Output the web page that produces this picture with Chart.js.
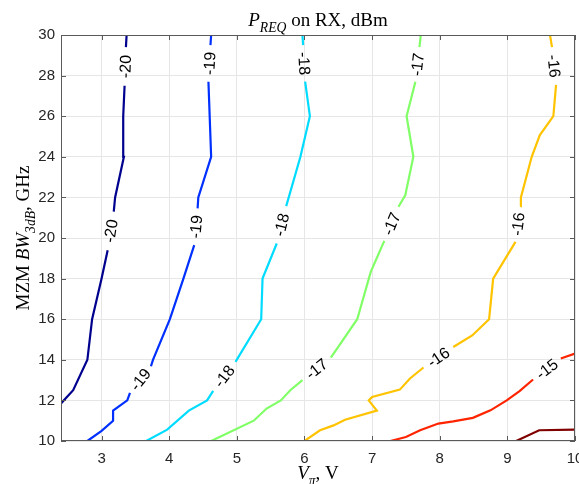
<!DOCTYPE html>
<html>
<head>
<meta charset="utf-8">
<script src="https://cdn.jsdelivr.net/npm/chart.js@4.4.1/dist/chart.umd.min.js"></script>
<style>
  html, body { margin: 0; padding: 0; background: #fff; }
  #wrap { width: 579px; height: 484px; }
</style>
</head>
<body>
<div id="wrap"><canvas id="myChart"></canvas></div>
<script>
// contour levels (dBm) and their colours
var levels = [-20, -19, -18, -17, -16, -15, -14];
var colors = ['#00008f', '#0030ff', '#00dcff', '#80ff66', '#ffc300', '#ff2400', '#800000'];

// contour lines: Vpi (V) and BW (GHz); null = gap for inline label
var c20x = [2.4, 2.58, 2.79, 2.86, 3.0, 3.09, null, 3.18, 3.2, 3.33, 3.32, 3.34, null, 3.36, 3.37];
var c20y = [11.85, 12.5, 14, 16, 18, 19.4, null, 21.3, 22, 24, 26, 27.5, null, 29.4, 30];

var c19x = [2.79, 3.0, 3.17, 3.17, 3.38, 3.42, null, 3.73, 3.76, 4.01, 4.21, 4.37, null, 4.42, 4.43, 4.62, 4.58, null, 4.61, 4.62];
var c19y = [10, 10.5, 11, 11.5, 12, 12.37, null, 13.68, 14, 16, 18, 19.65, null, 21.46, 22, 24, 27.7, null, 29.5, 30];

var c18x = [3.66, 3.97, 4.29, 4.56, 4.65, null, 4.98, 5.36, 5.38, 5.59, null, 5.73, 5.94, 6.08, 6.01, null, 5.98, 5.97];
var c18y = [10, 10.56, 11.5, 12, 12.47, null, 13.9, 16, 18, 19.73, null, 21.57, 24, 26, 27.7, null, 29.5, 30];

var c17x = [4.62, 5.25, 5.44, 5.65, 5.79, 5.97, null, 6.39, 6.78, 6.98, 7.18, null, 7.39, 7.49, 7.61, 7.51, 7.64, null, 7.7, 7.72];
var c17y = [10, 11, 11.6, 12, 12.5, 13, null, 14.11, 16, 18.33, 19.86, null, 21.54, 22.1, 24, 26, 27.7, null, 29.4, 30];

var c16x = [6.0, 6.23, 6.43, 6.6, 7.07, 6.95, 7.0, 7.41, 7.56, 7.76, null, 8.2, 8.48, 8.73, 8.79, 9.12, null, 9.19, 9.2, 9.36, 9.48, 9.68, 9.72, null, 9.66, 9.63];
var c16y = [10, 10.53, 10.77, 11.05, 11.5, 12, 12.17, 12.53, 13.08, 13.62, null, 14.63, 15.2, 16, 18, 19.81, null, 21.57, 22, 24, 25.07, 26, 27.54, null, 29.4, 30];

var c15x = [7.27, 7.5, 7.71, 7.98, 8.2, 8.49, 8.75, 8.99, 9.18, 9.38, null, 9.79, 10];
var c15y = [10, 10.2, 10.53, 10.86, 10.97, 11.14, 11.51, 12, 12.46, 13.03, null, 14.06, 14.31];

var c14x = [9.13, 9.47, 10];
var c14y = [10, 10.53, 10.56];

var xTicks = [3, 4, 5, 6, 7, 8, 9, 10];
var yTicks = [10, 12, 14, 16, 18, 20, 22, 24, 26, 28, 30];

var contoursX = [c20x, c19x, c18x, c17x, c16x, c15x, c14x];
var contoursY = [c20y, c19y, c18y, c17y, c16y, c15y, c14y];

var datasets = levels.map(function(lv, k) {
	var xs = contoursX[k], ys = contoursY[k];
	return {
		label : String(lv),
		data : xs.map(function(v, i) { return { x : v, y : ys[i] }; }),
		borderColor : colors[k],
		borderWidth : 2.2,
		pointRadius : 0,
		tension : 0,
		spanGaps : false,
		fill : false
	};
});

var SERIF = '"Liberation Serif", "Times New Roman", serif';
var SANS = '"Liberation Sans", Arial, sans-serif';

// draws text made of runs (italic / subscript) centred on (x, y)
function drawRuns(ctx, runs, x, y, rot, size) {
	var fonts = runs.map(function(r) {
		return (r.it ? 'italic ' : '') + (r.sub ? size * 0.72 : size) + 'px ' + SERIF;
	});
	var w = 0;
	runs.forEach(function(r, i) { ctx.font = fonts[i]; w += ctx.measureText(r.t).width; });
	ctx.save();
	ctx.translate(x, y);
	ctx.rotate(rot);
	ctx.fillStyle = '#000';
	ctx.textBaseline = 'alphabetic';
	ctx.textAlign = 'left';
	var cx = -w / 2;
	runs.forEach(function(r, i) {
		ctx.font = fonts[i];
		ctx.fillText(r.t, cx, r.sub ? size * 0.3 : 0);
		cx += ctx.measureText(r.t).width;
	});
	ctx.restore();
}

var decor = {
	id : 'decor',
	afterDatasetsDraw : function(chart) {
		var ctx = chart.ctx, a = chart.chartArea;
		var xs = chart.scales.x, ys = chart.scales.y;

		// box with inward ticks
		ctx.save();
		ctx.strokeStyle = '#5a5a5a';
		ctx.lineWidth = 1;
		ctx.strokeRect(a.left + 0.5, a.top + 0.5, a.right - a.left - 1, a.bottom - a.top - 1);
		ctx.beginPath();
		xTicks.forEach(function(t) {
			var p = Math.round(xs.getPixelForValue(t)) + 0.5;
			ctx.moveTo(p, a.bottom); ctx.lineTo(p, a.bottom - 5);
			ctx.moveTo(p, a.top); ctx.lineTo(p, a.top + 5);
		});
		yTicks.forEach(function(t) {
			var p = Math.round(ys.getPixelForValue(t)) + 0.5;
			ctx.moveTo(a.left, p); ctx.lineTo(a.left + 5, p);
			ctx.moveTo(a.right, p); ctx.lineTo(a.right - 5, p);
		});
		ctx.stroke();
		ctx.restore();

		// inline contour labels in each gap of the lines
		ctx.save();
		ctx.font = '16px ' + SANS;
		ctx.fillStyle = '#000';
		ctx.textAlign = 'center';
		ctx.textBaseline = 'middle';
		levels.forEach(function(lv, k) {
			var X = contoursX[k], Y = contoursY[k];
			for (var i = 1; i < X.length - 1; i++) {
				if (X[i] !== null) continue;
				var x0 = xs.getPixelForValue(X[i - 1]), y0 = ys.getPixelForValue(Y[i - 1]);
				var x1 = xs.getPixelForValue(X[i + 1]), y1 = ys.getPixelForValue(Y[i + 1]);
				var ang = Math.atan2(y1 - y0, x1 - x0);
				if (ang > Math.PI / 2) ang -= Math.PI;
				if (ang <= -Math.PI / 2) ang += Math.PI;
				ctx.save();
				ctx.translate((x0 + x1) / 2, (y0 + y1) / 2);
				ctx.rotate(ang);
				ctx.fillText(String(lv), 0, 1);
				ctx.restore();
			}
		});
		ctx.restore();

		// titles
		var mx = (a.left + a.right) / 2, my = (a.top + a.bottom) / 2;
		drawRuns(ctx, [{ t : 'P', it : true }, { t : 'REQ', it : true, sub : true }, { t : ' on RX, dBm' }], mx, 26, 0, 19);
		drawRuns(ctx, [{ t : 'V', it : true }, { t : '\u03c0', it : true, sub : true }, { t : ', V' }], mx, 479, 0, 19);
		drawRuns(ctx, [{ t : 'MZM ' }, { t : 'BW', it : true }, { t : '3dB', it : true, sub : true }, { t : ', GHz' }], 29, my, -Math.PI / 2, 19);
	}
};

function noPad(s) {
	s.paddingLeft = 0; s.paddingRight = 0; s.paddingTop = 0; s.paddingBottom = 0;
}

var ctx = document.getElementById('myChart').getContext('2d');
var chart = new Chart(ctx, {
	type : 'line',
	data : { datasets : datasets },
	plugins : [ decor ],
	options : {
		responsive : true,
		maintainAspectRatio : false,
		animation : false,
		layout : { padding : { top : 35, right : 4, left : 0, bottom : 0 } },
		plugins : { legend : { display : false }, tooltip : { enabled : false } },
		scales : {
			x : {
				type : 'linear',
				min : 2.4,
				max : 10,
				afterBuildTicks : function(s) {
					s.ticks = xTicks.map(function(v) { return { value : v }; });
				},
				afterFit : function(s) { s.height = 43; noPad(s); },
				ticks : { padding : 9, color : '#262626', font : { family : SANS, size : 15 } },
				grid : { color : '#e6e6e6', drawTicks : false },
				border : { display : false }
			},
			y : {
				type : 'linear',
				min : 10,
				max : 30,
				afterBuildTicks : function(s) {
					s.ticks = yTicks.map(function(v) { return { value : v }; });
				},
				afterFit : function(s) { s.width = 61; noPad(s); },
				ticks : { padding : 6, color : '#262626', font : { family : SANS, size : 15 } },
				grid : { color : '#e6e6e6', drawTicks : false },
				border : { display : false }
			}
		}
	}
});
</script>
</body>
</html>
